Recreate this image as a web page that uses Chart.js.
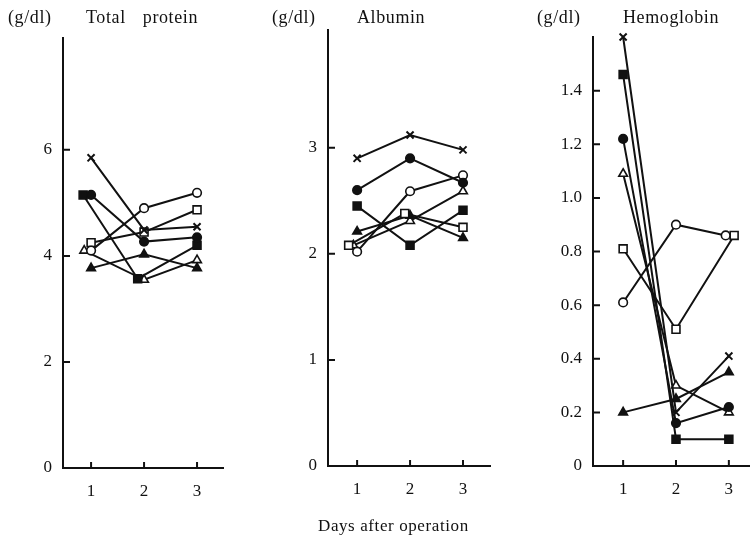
<!DOCTYPE html>
<html>
<head>
<meta charset="utf-8">
<script src="https://cdn.jsdelivr.net/npm/chart.js@4.4.1/dist/chart.umd.min.js"></script>
<style>
  body { margin: 0; background: #fff; }
  #page { position: relative; width: 750px; height: 540px; overflow: hidden; }
  #page canvas { position: absolute; left: 0; top: 0; }
  .lbl {
    position: absolute;
    font-family: "Liberation Serif", "DejaVu Serif", serif;
    font-size: 18px;
    color: #111;
    white-space: pre;
    letter-spacing: 0.6px;
  }
</style>
</head>
<body>
<div id="page">
  <canvas id="tp" width="750" height="540"></canvas>
  <canvas id="al" width="750" height="540"></canvas>
  <canvas id="hb" width="750" height="540"></canvas>

  <span class="lbl" style="left:8px;top:7px">(g/dl)</span>
  <span class="lbl" style="left:86px;top:7px;word-spacing:12px">Total protein</span>
  <span class="lbl" style="left:272px;top:7px">(g/dl)</span>
  <span class="lbl" style="left:357px;top:7px">Albumin</span>
  <span class="lbl" style="left:537px;top:7px">(g/dl)</span>
  <span class="lbl" style="left:623px;top:7px">Hemoglobin</span>
  <span class="lbl" style="left:318px;top:516px;font-size:17px">Days after operation</span>
</div>

<script>
// days after operation
const days = [1, 2, 3];

// tick values
const tpTicks = [0, 2, 4, 6];
const alTicks = [0, 1, 2, 3];
const hbTicks = [0, 0.2, 0.4, 0.6, 0.8, 1.0, 1.2, 1.4];

// Total protein (g/dl)
const tpCross = [5.85, 4.49, 4.55];
const tpFilledCircle = [5.15, 4.27, 4.35];
const tpOpenCircle = [4.1, 4.9, 5.19];
const tpFilledSquare = [5.15, 3.57, 4.2];
const tpOpenSquare = [4.25, 4.45, 4.87];
const tpFilledTriangle = [3.77, 4.03, 3.77];
const tpOpenTriangle = [4.1, 3.55, 3.92];
// a few markers sit slightly off the day in the original drawing
const tpFilledSquareDays = [0.85, 1.88, 3];
const tpOpenTriangleDays = [0.87, 2, 3];

// Albumin (g/dl)
const alCross = [2.9, 3.12, 2.98];
const alFilledCircle = [2.6, 2.9, 2.67];
const alOpenCircle = [2.02, 2.59, 2.74];
const alFilledSquare = [2.45, 2.08, 2.41];
const alOpenSquare = [2.08, 2.38, 2.25];
const alFilledTriangle = [2.21, 2.36, 2.15];
const alOpenTriangle = [2.08, 2.31, 2.59];
const alOpenSquareDays = [0.84, 1.9, 3];
const alOpenTriangleDays = [0.93, 2, 3];

// Hemoglobin (g/dl)
const hbCross = [1.6, 0.2, 0.41];
const hbFilledCircle = [1.22, 0.16, 0.22];
const hbOpenCircle = [0.61, 0.9, 0.86];
const hbFilledSquare = [1.46, 0.1, 0.1];
const hbOpenSquare = [0.81, 0.51, 0.86];
const hbFilledTriangle = [0.2, 0.25, 0.35];
const hbOpenTriangle = [1.09, 0.3, 0.2];
const hbOpenCircleDays = [1, 2, 2.94];
const hbOpenSquareDays = [1, 2, 3.1];

const INK = "#111";
const FONT = "'Liberation Serif', 'DejaVu Serif', serif";
const Y_W = 40;
const X_H = 40;

function pts(xs, ys) {
  return ys.map((y, i) => ({ x: xs[i], y: y }));
}

function series(kind, ys, xs) {
  const open = kind.startsWith("open");
  let style = "circle";
  let r = 4.3;
  if (kind.endsWith("Square")) { style = "rect"; r = 5.6; }
  if (kind.endsWith("Triangle")) { style = "triangle"; r = 5; }
  if (kind === "cross") { style = "crossRot"; r = 5; }
  return {
    data: pts(xs || days, ys),
    borderColor: INK,
    borderWidth: 2,
    pointStyle: style,
    pointRadius: r,
    pointBorderWidth: kind === "cross" ? 2 : 1.6,
    pointBorderColor: INK,
    pointBackgroundColor: open ? "#fff" : INK,
    fill: false,
    tension: 0,
    clip: false,
  };
}

// inward tick marks on both axes
const innerTicks = {
  id: "innerTicks",
  afterDraw(chart) {
    const { ctx, chartArea } = chart;
    const xs = chart.scales.x;
    const ys = chart.scales.y;
    ctx.save();
    ctx.strokeStyle = INK;
    ctx.lineWidth = 2;
    ctx.beginPath();
    xs.ticks.forEach((t) => {
      const px = xs.getPixelForValue(t.value);
      ctx.moveTo(px, chartArea.bottom);
      ctx.lineTo(px, chartArea.bottom - 6);
    });
    ys.ticks.forEach((t) => {
      if (t.value === 0) return;
      const py = ys.getPixelForValue(t.value);
      ctx.moveTo(chartArea.left, py);
      ctx.lineTo(chartArea.left + 7, py);
    });
    ctx.stroke();
    ctx.restore();
  },
};

function makePanel(id, datasets, box, yMax, yTicks, xMin, xMax, fmt) {
  return new Chart(document.getElementById(id), {
    type: "line",
    data: { datasets: datasets },
    plugins: [innerTicks],
    options: {
      responsive: false,
      animation: false,
      events: [],
      layout: {
        autoPadding: false,
        padding: {
          left: box.left - Y_W,
          top: box.top,
          right: 750 - box.right,
          bottom: 540 - box.bottom - X_H,
        },
      },
      plugins: { legend: { display: false }, tooltip: { enabled: false } },
      scales: {
        x: {
          type: "linear",
          min: xMin,
          max: xMax,
          afterFit: (s) => { s.height = X_H; },
          afterBuildTicks: (s) => { s.ticks = days.map((v) => ({ value: v })); },
          grid: { drawOnChartArea: false, drawTicks: false },
          border: { color: INK, width: 2 },
          ticks: { color: INK, padding: 13, font: { family: FONT, size: 17 } },
        },
        y: {
          min: 0,
          max: yMax,
          afterFit: (s) => { s.width = Y_W; },
          afterBuildTicks: (s) => { s.ticks = yTicks.map((v) => ({ value: v })); },
          grid: { drawOnChartArea: false, drawTicks: false },
          border: { color: INK, width: 2 },
          ticks: {
            color: INK,
            padding: 11,
            font: { family: FONT, size: 17 },
            callback: fmt,
          },
        },
      },
    },
  });
}

makePanel(
  "tp",
  [
    series("cross", tpCross),
    series("filledCircle", tpFilledCircle),
    series("openCircle", tpOpenCircle),
    series("filledSquare", tpFilledSquare, tpFilledSquareDays),
    series("openSquare", tpOpenSquare),
    series("filledTriangle", tpFilledTriangle),
    series("openTriangle", tpOpenTriangle, tpOpenTriangleDays),
  ],
  { left: 63, right: 223, top: 38, bottom: 468 },
  8.11, tpTicks, 0.47, 3.49,
  (v) => String(v)
);

makePanel(
  "al",
  [
    series("cross", alCross),
    series("filledCircle", alFilledCircle),
    series("openCircle", alOpenCircle),
    series("filledSquare", alFilledSquare),
    series("openSquare", alOpenSquare, alOpenSquareDays),
    series("filledTriangle", alFilledTriangle),
    series("openTriangle", alOpenTriangle, alOpenTriangleDays),
  ],
  { left: 328, right: 490, top: 30, bottom: 466 },
  4.11, alTicks, 0.45, 3.51,
  (v) => String(v)
);

makePanel(
  "hb",
  [
    series("cross", hbCross),
    series("filledCircle", hbFilledCircle),
    series("openCircle", hbOpenCircle, hbOpenCircleDays),
    series("filledSquare", hbFilledSquare),
    series("openSquare", hbOpenSquare, hbOpenSquareDays),
    series("filledTriangle", hbFilledTriangle),
    series("openTriangle", hbOpenTriangle),
  ],
  { left: 593, right: 750, top: 37, bottom: 466 },
  1.6, hbTicks, 0.43, 3.4,
  (v) => (v === 0 ? "0" : v.toFixed(1))
);
</script>
</body>
</html>
